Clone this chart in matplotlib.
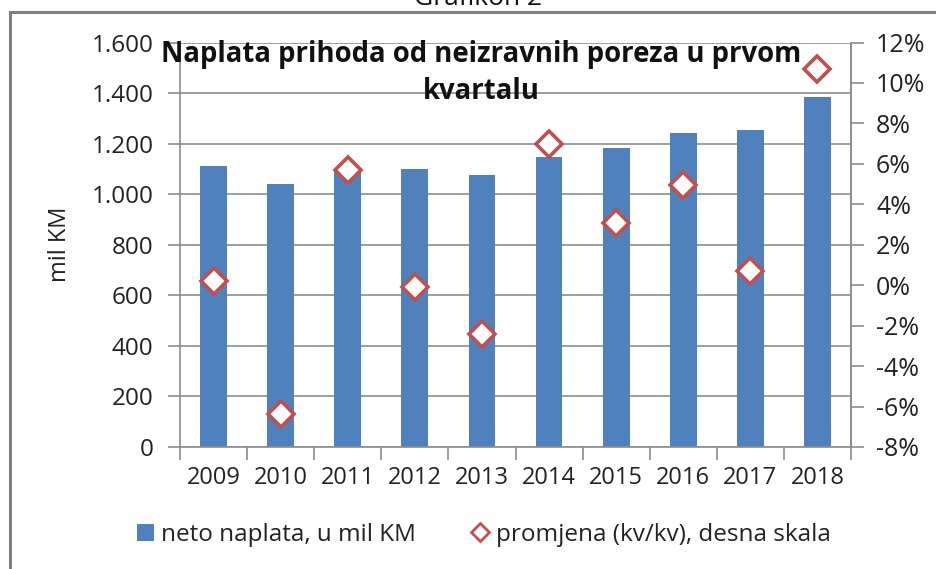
import matplotlib
matplotlib.use('Agg')
import matplotlib.pyplot as plt
from matplotlib import ticker
from matplotlib.lines import Line2D
from matplotlib.patches import Patch, Rectangle
import numpy as np

years = ['2009', '2010', '2011', '2012', '2013', '2014', '2015', '2016', '2017', '2018']
naplata = [1110, 1040, 1100, 1100, 1075, 1146, 1181, 1241, 1252, 1383]  # mil KM
promjena = [0.2, -6.35, 5.7, -0.1, -2.4, 7.0, 3.1, 4.95, 0.7, 10.7]  # %

title = 'Naplata prihoda od neizravnih poreza u prvom\nkvartalu'
bar_label = 'neto naplata, u mil KM'
line_label = 'promjena (kv/kv), desna skala'

plt.rcParams['font.family'] = ['Open Sans', 'DejaVu Sans']
BLUE = '#4F81BD'
RED = '#C0504D'
GRID = '#8c8c8c'

fig = plt.figure(figsize=(9.36, 5.69), dpi=100)
ax = fig.add_axes([180 / 936, 1 - 447 / 569, (851 - 180) / 936, (447 - 42.5) / 569])
ax2 = ax.twinx()

x = np.arange(len(years))
ax.bar(x, naplata, width=0.4, color=BLUE, zorder=2)
ax.set_ylim(0, 1600)
ax.set_xlim(-0.5, len(years) - 0.5)
ax.yaxis.set_major_locator(ticker.MultipleLocator(200))
ax.yaxis.set_major_formatter(ticker.FuncFormatter(lambda v, p: f'{int(v):,}'.replace(',', '.')))
ax.grid(axis='y', color=GRID, lw=1.2, zorder=0)
ax.set_axisbelow(True)

# category labels centred, tick marks between categories
ax.set_xticks(x)
ax.set_xticklabels(years)
ax.tick_params(axis='x', length=0, labelsize=17, pad=14, colors='#222222')
ax.set_xticks(np.arange(-0.5, len(years)), minor=True)
ax.tick_params(axis='x', which='minor', length=9, color=GRID, width=1.2)
ax.tick_params(axis='y', length=9, color=GRID, width=1.2, labelsize=17.5, pad=10, colors='#222222')
ax.spines['top'].set_visible(False)
for sp in ['left', 'bottom', 'right']:
    ax.spines[sp].set_color(GRID)
    ax.spines[sp].set_linewidth(1.2)
ax.set_ylabel('mil KM', fontsize=17, labelpad=14, color='#222222')

ax2.plot(x, promjena, ls='none', marker='D', ms=13, mfc='white', mec=RED, mew=2.6, zorder=3)
ax2.set_ylim(-8, 12)
ax2.yaxis.set_major_locator(ticker.MultipleLocator(2))
ax2.yaxis.set_major_formatter(ticker.FuncFormatter(lambda v, p: f'{int(round(v))}%'))
ax2.tick_params(axis='y', length=9, color=GRID, width=1.2, labelsize=18, pad=9, colors='#222222')
for sp in ['top', 'left', 'bottom']:
    ax2.spines[sp].set_visible(False)
ax2.spines['right'].set_color(GRID)
ax2.spines['right'].set_linewidth(1.2)

fig.text(481 / 936, 1 - 73 / 569, title, ha='center', va='center', fontsize=19.8,
         fontweight='bold', linespacing=1.4, color='#111111')

handles = [Patch(facecolor=BLUE),
           Line2D([], [], ls='none', marker='D', ms=9, mfc='white', mec=RED, mew=2)]
fig.legend(handles, [bar_label, line_label], loc='center', bbox_to_anchor=(484 / 936, 1 - 535 / 569),
           ncol=2, frameon=False, fontsize=17.5, handlelength=0.7, handletextpad=0.3, columnspacing=2.3,
           labelcolor='#222222')

# outer frame and clipped caption
fig.patches.append(Rectangle((10 / 936, -0.1), 1.2, 1 - 12 / 569 + 0.1, transform=fig.transFigure,
                             fill=False, edgecolor='#808080', lw=2.2))
fig.text(478 / 936, 1 - 5 / 569, 'Grafikon 2', ha='center', va='baseline', fontsize=19, color='#111111')

fig.savefig('out.png', dpi=100)
